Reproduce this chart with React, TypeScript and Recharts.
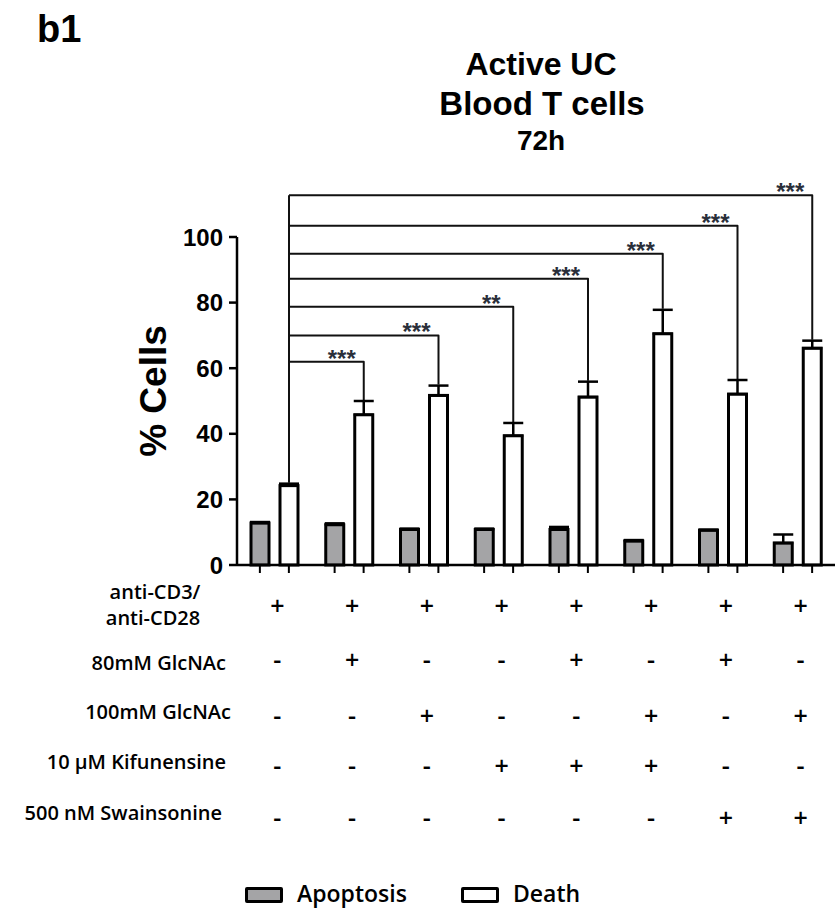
import React from 'react';
import { BarChart, Bar, XAxis, YAxis, ErrorBar, Legend } from 'recharts';

// groups, left to right
const groups = ['G1', 'G2', 'G3', 'G4', 'G5', 'G6', 'G7', 'G8'];
const apoptosis = [12.8, 12.3, 10.8, 10.8, 10.8, 7.3, 10.6, 6.7];
const apoptosisErr = [0.3, 0.4, 0.3, 0.3, 0.8, 0.3, 0.2, 2.6];
const death = [24.2, 45.8, 51.7, 39.4, 51.2, 70.5, 52.1, 66.1];
const deathErr = [0.6, 4.2, 3.0, 3.9, 4.7, 7.3, 4.3, 2.3];

// significance brackets vs. control (group 1)
const bracketLevel = [0, 62, 70, 78.7, 87.3, 94.9, 103.4, 112.7];
const significance = ['', '***', '***', '**', '***', '***', '***', '***'];

const yTicks = [0, 20, 40, 60, 80, 100];

const conditions = ['anti-CD3/anti-CD28', '80mM GlcNAc', '100mM GlcNAc', '10 µM Kifunensine', '500 nM Swainsonine'];
const treatment = [
  ['+', '+', '+', '+', '+', '+', '+', '+'],
  ['-', '+', '-', '-', '+', '-', '+', '-'],
  ['-', '-', '+', '-', '-', '+', '-', '+'],
  ['-', '-', '-', '+', '+', '+', '-', '-'],
  ['-', '-', '-', '-', '-', '-', '+', '+'],
];

const chartData = groups.map((g, i) => ({
  group: g,
  apoptosis: apoptosis[i],
  apoptosisErr: [0, apoptosisErr[i]],
  death: death[i],
  deathErr: [0, deathErr[i]],
  level: bracketLevel[i],
  sig: significance[i],
}));

const ARIAL = '"Liberation Sans", Arial, sans-serif';
const OPEN = '"Open Sans", sans-serif';
const rowOffsets = [40, 94, 150, 200, 252];

const ctrl = { x: 0 };

function DeathShape(props: any) {
  const { x, y, width, height, index, payload } = props;
  const cx = x + width / 2;
  const base = y + height;
  const k = height / payload.death;
  const toY = (v: number) => base - v * k;
  const errTop = toY(payload.death + payload.deathErr[1]);
  if (index === 0) ctrl.x = cx;
  const topLevel = Math.max(...bracketLevel);
  const ly = toY(payload.level);
  return (
    <g>
      <rect x={x} y={y} width={width} height={height} fill="#fff" stroke="#000" strokeWidth={3} />
      {index === 0 && (
        <line x1={cx} x2={cx} y1={toY(topLevel)} y2={errTop - 1} stroke="#111" strokeWidth={2} />
      )}
      {index > 0 && (
        <g>
          <path
            d={`M${ctrl.x},${ly} H${cx} V${errTop - 1}`}
            fill="none"
            stroke="#111"
            strokeWidth={2}
            strokeLinejoin="round"
          />
          <text x={cx - 22} y={ly + 5} textAnchor="middle" fontSize={24} fontWeight={700} fontFamily={ARIAL} fill="#2a2f3a">
            {payload.sig}
          </text>
        </g>
      )}
    </g>
  );
}

function TableTick(props: any) {
  const { x, y, index } = props;
  const half = 14.5;
  return (
    <g>
      <line x1={x - half} x2={x - half} y1={y} y2={y + 8} stroke="#000" strokeWidth={2} />
      <line x1={x + half} x2={x + half} y1={y} y2={y + 8} stroke="#000" strokeWidth={2} />
      {rowOffsets.map((dy, r) => (
        <text
          key={r}
          x={x + 3}
          y={y + dy}
          textAnchor="middle"
          dominantBaseline="central"
          fontSize={25}
          fontWeight={600}
          fontFamily={OPEN}
          fill="#000"
        >
          {treatment[r][index]}
        </text>
      ))}
    </g>
  );
}

function LegendContent() {
  const items = [
    { name: 'Apoptosis', fill: '#a4a4a6', x: 245 },
    { name: 'Death', fill: '#fff', x: 461 },
  ];
  return (
    <div style={{ position: 'relative', width: 838, height: 36 }}>
      {items.map((it) => (
        <React.Fragment key={it.name}>
          <span
            style={{
              position: 'absolute',
              left: it.x,
              top: 15,
              width: 32,
              height: 10,
              border: '3px solid #000',
              borderRadius: 2,
              background: it.fill,
            }}
          />
          <span
            style={{
              position: 'absolute',
              left: it.x + 52,
              top: 10,
              fontSize: 23,
              lineHeight: '23px',
              fontWeight: 600,
              fontFamily: OPEN,
              color: '#000',
              whiteSpace: 'nowrap',
            }}
          >
            {it.name}
          </span>
        </React.Fragment>
      ))}
    </div>
  );
}

export default function App() {
  return (
    <div style={{ position: 'absolute', left: 0, top: 0, width: 838, height: 911, background: '#fff' }}>
      <BarChart
        width={838}
        height={911}
        data={chartData}
        margin={{ top: 237, right: 3, left: 0, bottom: 46 }}
        barSize={18}
        barGap={11}
      >
        <XAxis
          dataKey="group"
          height={300}
          tickSize={0}
          tickMargin={0}
          tickLine={false}
          interval={0}
          axisLine={{ stroke: '#000', strokeWidth: 2.5 }}
          tick={<TableTick />}
        />
        <YAxis
          type="number"
          domain={[0, 100]}
          ticks={yTicks}
          interval={0}
          width={237}
          tickSize={8}
          tickMargin={6}
          axisLine={{ stroke: '#000', strokeWidth: 2.5 }}
          tickLine={{ stroke: '#000', strokeWidth: 2.5 }}
          tick={{ fill: '#000', fontSize: 24, fontWeight: 700, fontFamily: ARIAL }}
        />
        <Legend
          layout="horizontal"
          verticalAlign="middle"
          align="center"
          wrapperStyle={{ position: 'absolute', top: 872, left: 0, width: 838 }}
          content={() => <LegendContent />}
        />
        <Bar dataKey="apoptosis" name="Apoptosis" fill="#a4a4a6" stroke="#000" strokeWidth={3} isAnimationActive={false}>
          <ErrorBar dataKey="apoptosisErr" width={10} stroke="#000" strokeWidth={2.5} isAnimationActive={false} />
        </Bar>
        <Bar dataKey="death" name="Death" fill="#fff" stroke="#000" strokeWidth={3} shape={<DeathShape />} isAnimationActive={false}>
          <ErrorBar dataKey="deathErr" width={10} stroke="#000" strokeWidth={2.5} isAnimationActive={false} />
        </Bar>
      </BarChart>
      <svg width={838} height={911} style={{ position: 'absolute', left: 0, top: 0, pointerEvents: 'none' }}>
        <text x={37} y={42} fontSize={38} fontWeight={700} fontFamily={ARIAL} fill="#000">b1</text>
        <text x={541} y={75} textAnchor="middle" fontSize={32} fontWeight={700} fontFamily={ARIAL} fill="#000">Active UC</text>
        <text x={542} y={115} textAnchor="middle" fontSize={33} fontWeight={700} fontFamily={ARIAL} fill="#000">Blood T cells</text>
        <text x={541} y={150} textAnchor="middle" fontSize={28} fontWeight={700} fontFamily={ARIAL} fill="#000">72h</text>
        <text
          transform="translate(166,391) rotate(-90)"
          textAnchor="middle"
          fontSize={37}
          fontWeight={700}
          fontFamily={ARIAL}
          fill="#000"
        >
          % Cells
        </text>
        <text x={155} y={599} textAnchor="middle" fontSize={20} fontWeight={600} fontFamily={OPEN} fill="#000">anti-CD3/</text>
        <text x={153} y={625} textAnchor="middle" fontSize={20} fontWeight={600} fontFamily={OPEN} fill="#000">anti-CD28</text>
        <text x={226} y={670} textAnchor="end" fontSize={20} fontWeight={600} fontFamily={OPEN} fill="#000">{conditions[1]}</text>
        <text x={231} y={719} textAnchor="end" fontSize={20} fontWeight={600} fontFamily={OPEN} fill="#000">{conditions[2]}</text>
        <text x={226} y={769} textAnchor="end" fontSize={20} fontWeight={600} fontFamily={OPEN} fill="#000">{conditions[3]}</text>
        <text x={222} y={820} textAnchor="end" fontSize={20} fontWeight={600} fontFamily={OPEN} fill="#000">{conditions[4]}</text>
      </svg>
    </div>
  );
}
